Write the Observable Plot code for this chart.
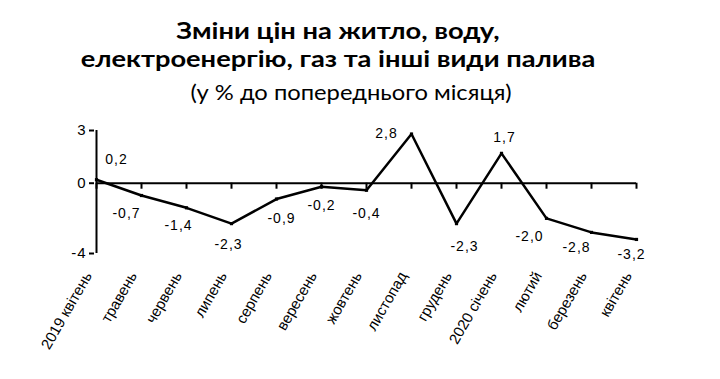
<!DOCTYPE html>
<html><head><meta charset="utf-8">
<script src="https://cdn.jsdelivr.net/npm/d3@7"></script>
<script src="https://cdn.jsdelivr.net/npm/@observablehq/plot@0.6"></script>
<style>
body{margin:0;background:#fff;}
#title{position:relative;height:105px;width:720px;font-family:Lato,"Open Sans",sans-serif;color:#000;}
#title div{position:absolute;left:0;width:676px;text-align:center;white-space:nowrap;line-height:1;transform-origin:338px 50%;}
.l1,.l2{font-weight:bold;font-size:22px;transform:scaleX(1.24);}
.l3{font-size:21px;transform:scaleX(1.13);}
</style></head><body>
<div id="title">
  <div class="l1" style="top:20px">Зміни цін на житло, воду,</div>
  <div class="l2" style="top:48px">електроенергію, газ та інші види палива</div>
  <div class="l3" style="top:81px;left:13px">(у % до попереднього місяця)</div>
</div>
<div id="chart"></div>
<script>
const months = ["2019 квітень","травень","червень","липень","серпень","вересень","жовтень","листопад","грудень","2020 січень","лютий","березень","квітень"];
const values = [0.2,-0.7,-1.4,-2.3,-0.9,-0.2,-0.4,2.8,-2.3,1.7,-2.0,-2.8,-3.2];
const yTicks = [3,0,-4];
// label placement (layout only)
const labelDx = [20,-15,-8,-3,5,0,0,-25,8,3,-17,-15,-5];
const labelDy = [-20,18,18,21,19,19,23,0,23,-16,18,15,15];

const data = months.map((m,i)=>({month:m, value:values[i], label:values[i].toFixed(1).replace(".",","), dx:labelDx[i], dy:labelDy[i]}));

const H = 274, mT = 25, mB = 126;
const unit = (H - mT - mB) / (yTicks[0] - yTicks[2]);
const tickLen = 6 / unit;

const marks = [
  Plot.ruleY([0], {x1: () => months[0], x2: () => months[months.length-1], strokeWidth: 2, stroke: "#000"}),
  Plot.ruleX(months, {x: d=>d, y1: 0, y2: -tickLen, strokeWidth: 2, stroke: "#000"}),
  Plot.ruleX([months[0]], {y1: yTicks[2], y2: yTicks[0], strokeWidth: 2, stroke: "#000"}),
  Plot.axisY({ticks: yTicks, tickSize: 5, tickPadding: 3, tickFormat: d=>String(d), fontSize: 15, label: null, strokeWidth: 2}),
  Plot.line(data, {x: "month", y: "value", stroke: "#000", strokeWidth: 2.5}),
  Plot.dot(data, {x: "month", y: "value", symbol: "square", r: 1.8, fill: "#000"}),
  ...data.map(d => Plot.text([d], {x: "month", y: "value", text: "label", dx: d.dx, dy: d.dy, fontSize: 14, fill: "#000"})),
  Plot.text(data, {x: "month", frameAnchor: "bottom", text: "month", rotate: -60, textAnchor: "end", dx: -4, dy: 22, fontSize: 15, fill: "#000"})
];

const chart = Plot.plot({
  width: 720, height: H,
  marginTop: mT, marginBottom: mB, marginLeft: 94, marginRight: 83,
  style: {fontFamily: "'Liberation Sans', Arial, sans-serif", color: "#000", background: "#fff", overflow: "visible"},
  x: {type: "point", domain: months, padding: 0, axis: null},
  y: {domain: [yTicks[2], yTicks[0]], axis: null},
  marks
});
document.getElementById("chart").appendChild(chart);
// widen the value labels slightly, like the reference's stretched text
chart.querySelectorAll("text").forEach(t => { if (!t.getAttribute("transform") || !/rotate/.test(t.getAttribute("transform"))) t.style.letterSpacing = "1px"; });
</script>
</body></html>
